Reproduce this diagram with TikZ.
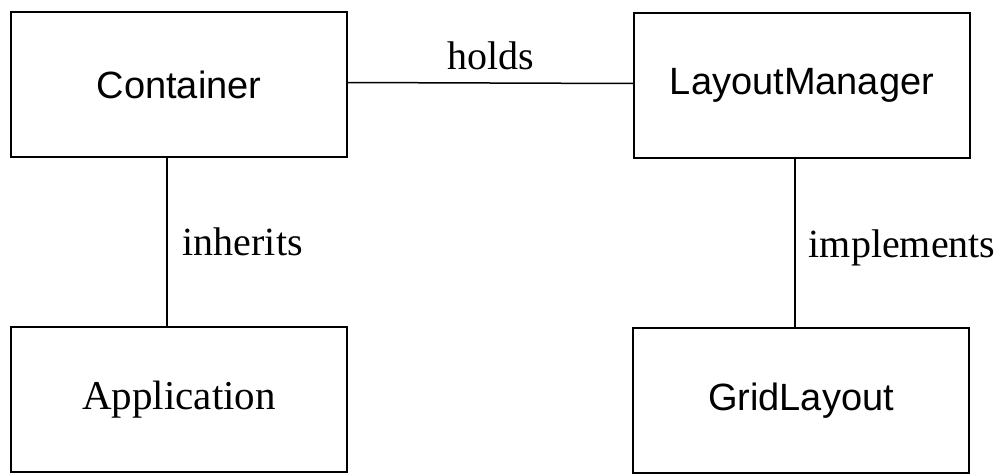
\documentclass[tikz,border=0pt]{standalone}
\usepackage{fontspec}
\setmainfont{Liberation Serif}
\newfontfamily\boxsans{Liberation Sans}
\begin{document}
\begin{tikzpicture}[x=1pt,y=-1pt,
  classbox/.style={draw=black,line width=1.5pt,minimum width=336pt,minimum height=145pt,inner sep=0pt},
  sanslabel/.style={font=\boxsans\fontsize{38}{44}\selectfont},
  seriflabel/.style={font=\fontsize{41}{46}\selectfont},
  conn/.style={draw=black,line width=1.5pt},
  rellabel/.style={font=\fontsize{40}{44}\selectfont,inner sep=0pt}]
\useasboundingbox (0,0) rectangle (995,474);
\node[classbox,sanslabel] (c) at (179,84.5) {Container};
\node[classbox,sanslabel] (l) at (802,85.5) {LayoutManager};
\node[classbox,seriflabel] (a) at (179,399.5) {Application};
\node[classbox,sanslabel] (g) at (801,400.5) {GridLayout};
\draw[conn] ([yshift=2pt]c.east) -- node[rellabel,midway,anchor=base,yshift=14pt] {holds} ([yshift=2pt]l.west);
\draw[conn] ([xshift=-12pt]c.south) -- node[rellabel,midway,anchor=base west,xshift=15pt,yshift=-13pt] {inherits} ([xshift=-12pt]a.north);
\draw[conn] ([xshift=-7pt]l.south) -- node[rellabel,midway,anchor=base west,xshift=13pt,yshift=-14pt] {implements} ([xshift=-6pt]g.north);
\end{tikzpicture}
\end{document}
